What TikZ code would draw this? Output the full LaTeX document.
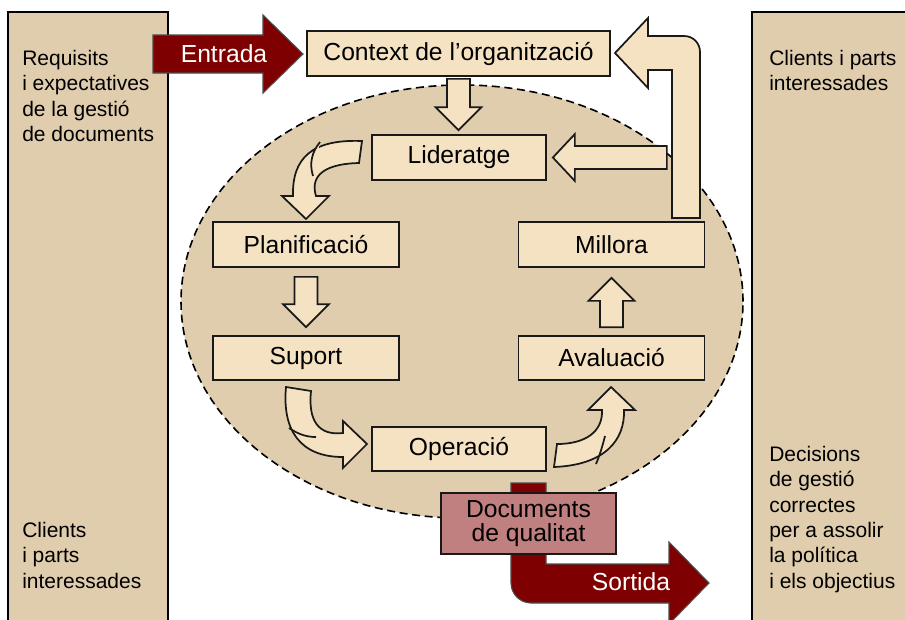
\documentclass[tikz,border=0pt]{standalone}
\usepackage{fontspec}
\setmainfont{Liberation Sans}
\usetikzlibrary{calc}
\definecolor{panelcol}{HTML}{DFCDAD}
\definecolor{boxcol}{HTML}{F5E2C3}
\definecolor{darkred}{HTML}{7F0000}
\definecolor{doccol}{HTML}{C08080}
\tikzstyle{panel} = [draw=black, line width=1.2pt, fill=panelcol]
\tikzstyle{process} = [rectangle, draw=black!90, line width=1.3pt, fill=boxcol, text centered, inner sep=0pt, font=\fontsize{18.5}{20}\selectfont]
\tikzstyle{sidetext} = [align=left, anchor=north west, inner sep=0pt, font=\fontsize{15.75}{19}\selectfont]
\tikzstyle{blockarrow} = [draw=black!90, line width=1.3pt, fill=boxcol]
\tikzstyle{bigarrow} = [draw=black!70, line width=0.8pt, fill=darkred]
\tikzstyle{bigtext} = [text=white, inner sep=0pt, font=\fontsize{18.5}{20}\selectfont]
\newcommand{\vblock}[2]{%
  \draw[blockarrow] let \p1=(#1), \p2=(#2), \n1={17.25pt*sign(\y1-(\y2))} in
    (\x1-8.6pt,\y1) -- (\x1+8.6pt,\y1) -- (\x1+8.6pt,{\y2+(\n1)}) -- (\x1+17.25pt,{\y2+(\n1)})
    -- (\x1,\y2) -- (\x1-17.25pt,{\y2+(\n1)}) -- (\x1-8.6pt,{\y2+(\n1)}) -- cycle;}
\newcommand{\hblock}[2]{%
  \draw[blockarrow] let \p1=(#1), \p2=(#2), \n1={16.5pt*sign(\x1-(\x2))} in
    (\x1,\y1-8.6pt) -- (\x1,\y1+8.6pt) -- ({\x2+(\n1)},\y1+8.6pt) -- ({\x2+(\n1)},\y1+17.6pt)
    -- (\x2,\y1) -- ({\x2+(\n1)},\y1-17.6pt) -- ({\x2+(\n1)},\y1-8.6pt) -- cycle;}

\begin{document}
\begin{tikzpicture}[x=0.75pt, y=-0.75pt]
    \useasboundingbox (0,0) rectangle (905,619);
    \clip (0,0) rectangle (905,619);
    \draw [panel] (8,12) rectangle (168,640);
    \draw [panel] (752,12) rectangle (920,640);
    \draw [dash pattern=on 6pt off 3.5pt, line width=1.2pt, fill=panelcol] (462,301.5) ellipse [x radius=210.75pt, y radius=162.4pt];
    \node (reqtext) [sidetext] at (22,50) {Requisits\\i expectatives\\de la gestió\\de documents};
    \node (clileft) [sidetext] at (22,522) {Clients\\i parts\\interessades};
    \node (cliright) [sidetext] at (769,50) {Clients i parts\\interessades};
    \node (decright) [sidetext] at (769,446) {Decisions\\de gestió\\correctes\\per a assolir\\la política\\i els objectius};
    \draw [bigarrow] (153,35) -- (263,35) -- (263,15) -- (303,54) -- (263,93) -- (263,73) -- (153,73) -- cycle;
    \node (entrada) [bigtext] at (224,54) {Entrada};
    \node (ctx) [process, minimum width=227.25pt, minimum height=33.75pt] at (458.5,53.5) {Context de l’organització};
    \node (lid) [process, minimum width=130.5pt, minimum height=33.75pt] at (459,157.5) {Lideratge};
    \node (plan) [process, minimum width=139.5pt, minimum height=33.75pt] at (306,244.5) {Planificació};
    \node (mil) [process, minimum width=139.5pt, minimum height=33.75pt] at (611.5,244.5) {Millora};
    \node (sup) [process, minimum width=139.5pt, minimum height=33pt] at (306,358) {Suport};
    \node (ava) [process, minimum width=139.5pt, minimum height=33pt] at (611.5,358) {Avaluació};
    \node (ope) [process, minimum width=130.5pt, minimum height=33pt] at (459,449) {Operació};
    \vblock{$(ctx.south)+(0,2)$}{$(lid.north)+(0,-4)$}
    \hblock{$(lid.east)+(120,0)$}{$(lid.east)+(6,0)$}
    \vblock{$(plan.south)+(0,9)$}{$(sup.north)+(0,-8)$}
    \vblock{$(ava.north)+(0,-8)$}{$(mil.south)+(0,10)$}
    \draw [blockarrow] (362,141) .. controls (312,139) and (292,158) .. (293,196) -- (282,196) -- (306,219) -- (329,196) -- (316,196) .. controls (311,180) and (318,164) .. (359,163) -- cycle;
    \draw [blockarrow] (320,142) .. controls (312,152) and (309,163) .. (313,176);
    \draw [blockarrow] (286,387) .. controls (282,430) and (300,457) .. (343,457) -- (343,468) -- (367,444) -- (343,421) -- (343,433) .. controls (318,436) and (308,420) .. (311,391) -- cycle;
    \draw [blockarrow] (289,428) .. controls (298,434) and (306,437) .. (316,437);
    \draw [blockarrow] (557,444) .. controls (585,444) and (603,432) .. (602,410) -- (588,410) -- (611,387) -- (635,410) -- (624,410) .. controls (625,440) and (605,465) .. (554,467) -- cycle;
    \draw [blockarrow] (605,436) .. controls (602,448) and (599,457) .. (596,464);
    \draw [blockarrow] (672,218) -- (700,218) -- (700,52) .. controls (700,43) and (693,36) .. (684,36) -- (648,36) -- (648,18) -- (615,53) -- (648,88) -- (648,70) -- (672,70) -- cycle;
    \draw [bigarrow] (511,483) -- (546,483) -- (546,564) -- (669,564) -- (669,542) -- (709,583) -- (669,624) -- (669,603) -- (531,603) .. controls (520,603) and (511,594) .. (511,583) -- cycle;
    \node (sortida) [bigtext] at (631,582) {Sortida};
    \node (docs) [process, fill=doccol, align=center, minimum width=131.25pt, minimum height=45.75pt, font=\fontsize{18.5}{17.5}\selectfont] at (528.5,523.5) {Documents\\de qualitat};
\end{tikzpicture}
\end{document}
